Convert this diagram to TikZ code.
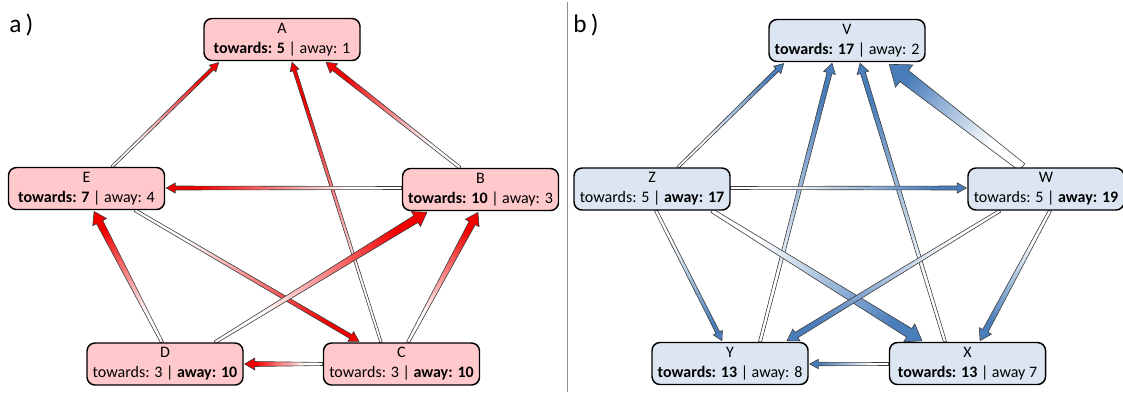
\documentclass[tikz,border=0pt]{standalone}
\usepackage{fontspec}
\setmainfont{Carlito}
\usetikzlibrary{calc,backgrounds}

\definecolor{flowred}{HTML}{F20000}
\definecolor{flowblue}{HTML}{4A7EBB}
\definecolor{pinkfill}{HTML}{FFC8CB}
\definecolor{bluefill}{HTML}{DCE6F2}
\definecolor{edgegray}{HTML}{3C3C3C}
\definecolor{rulegray}{HTML}{909090}

% fill of the flow arrows: white at the tail, full colour near the head
\pgfdeclarehorizontalshading{redflow}{100bp}{color(0bp)=(white); color(25bp)=(white); color(36bp)=(white); color(68bp)=(flowred); color(100bp)=(flowred)}
\pgfdeclarehorizontalshading{blueflow}{100bp}{color(0bp)=(white); color(25bp)=(white); color(36bp)=(white); color(68bp)=(flowblue); color(100bp)=(flowblue)}

% \flowarrow{tail}{tip}{tail width}{shaft width at head}{shading}
% a tapered block arrow, widths in px
\newcommand\flowarrow[5]{%
  \coordinate (flowtail) at #1;
  \coordinate (flowtip) at #2;
  \pgfpointdiff{\pgfpointanchor{flowtail}{center}}{\pgfpointanchor{flowtip}{center}}%
  \pgfgetlastxy{\flowdx}{\flowdy}%
  \pgfmathsetmacro\flowang{atan2(\flowdy,\flowdx)}%
  \pgfmathsetmacro\flowlen{veclen(\flowdx,\flowdy)}%
  \pgfmathsetmacro\flowa{0.375*#3}%
  \pgfmathsetmacro\flowb{0.375*#4}%
  \pgfmathsetmacro\flowh{0.75*(0.9*#4+1.5)}%
  \pgfmathsetmacro\flowbase{\flowlen-0.75*(#4+5)}%
  \begin{scope}[transform canvas={shift={(flowtail)},rotate=\flowang}]
    \shade[flowedge,shading=#5] (0pt,\flowa pt) -- (\flowbase pt,\flowb pt) -- (\flowbase pt,\flowh pt) -- (\flowlen pt,0pt) -- (\flowbase pt,-\flowh pt) -- (\flowbase pt,-\flowb pt) -- (0pt,-\flowa pt) -- cycle;
  \end{scope}%
}

\begin{document}
\begin{tikzpicture}[x=0.75pt,y=-0.75pt,
  state/.style={draw=black, line width=1.1pt, rounded corners=6pt,
    minimum width=117pt, minimum height=31.5pt, inner sep=0pt,
    align=center, font=\fontsize{12}{15}\selectfont, text=black},
  pinkstate/.style={state, fill=pinkfill},
  bluestate/.style={state, fill=bluefill},
  flowedge/.style={draw=edgegray, line width=0.45pt, line join=miter},
  panellabel/.style={anchor=base west, inner sep=0pt, font=\fontsize{19}{22}\selectfont}]
\useasboundingbox (0,0) rectangle (1123,394);

% panel labels and separator
\node[panellabel] (la) at (9,32) {a\,)};
\node[panellabel] (lb) at (573,32) {b\,)};
\coordinate (sepTop) at (567,2);
\coordinate (sepBot) at (567,392);
\draw[rulegray, line width=0.75pt] (sepTop) -- (sepBot);

% states of panel a
\node[pinkstate] (A) at (282,39.5) {A\\\textbf{towards: 5} | away: 1};
\node[pinkstate] (E) at (86.5,188.5) {E\\\textbf{towards: 7} | away: 4};
\node[pinkstate] (B) at (480.5,189.5) {B\\\textbf{towards: 10} | away: 3};
\node[pinkstate] (D) at (165,364) {D\\towards: 3 | \textbf{away: 10}};
\node[pinkstate] (C) at (401.5,364) {C\\towards: 3 | \textbf{away: 10}};

% states of panel b
\node[bluestate] (V) at (847,40.5) {V\\\textbf{towards: 17} | away: 2};
\node[bluestate] (Z) at (652,189) {Z\\towards: 5 | \textbf{away: 17}};
\node[bluestate] (W) at (1046,189) {W\\towards: 5 | \textbf{away: 19}};
\node[bluestate] (Y) at (730,363.5) {Y\\\textbf{towards: 13} | away: 8};
\node[bluestate] (X) at (967.5,363.5) {X\\\textbf{towards: 13} | away 7};

\begin{pgfonlayer}{background}
% flows of panel a
\flowarrow{($(E.north)+(25.5,0)$)}{($(A.south)+(-63,1)$)}{2.5}{3.5}{redflow}
\flowarrow{($(C.north)+(-20.5,0)$)}{($(A.south)+(10,1)$)}{2.5}{3.5}{redflow}
\flowarrow{($(B.north)+(-20.5,0)$)}{($(A.south)+(44,1)$)}{3}{5}{redflow}
\flowarrow{($(B.west)+(0,-1.5)$)}{($(E.east)+(1,-0.5)$)}{3}{4}{redflow}
\flowarrow{($(E.south)+(48.5,0)$)}{($(C.north)+(-42.5,-1)$)}{3}{4.5}{redflow}
\flowarrow{($(D.north)+(-3,0)$)}{($(E.south)+(7.5,1)$)}{3}{7}{redflow}
\flowarrow{($(D.north)+(50,0)$)}{($(B.south)+(-53.5,1)$)}{3}{8}{redflow}
\flowarrow{($(C.north)+(6.5,0)$)}{($(B.south)+(-2.5,1)$)}{3}{7}{redflow}
\flowarrow{(C.west)}{($(D.east)+(1,0)$)}{3}{5}{redflow}

% flows of panel b
\flowarrow{($(Z.north)+(26,0)$)}{($(V.south)+(-63,1)$)}{2.5}{4}{blueflow}
\flowarrow{($(Y.north)+(30,0)$)}{($(V.south)+(-15,1)$)}{3}{5}{blueflow}
\flowarrow{($(X.north)+(-22.5,0)$)}{($(V.south)+(13,1)$)}{3}{5}{blueflow}
\flowarrow{($(W.north)+(-24,0)$)}{($(V.south)+(42,2)$)}{9}{14}{blueflow}
\flowarrow{($(Z.east)+(0,-1)$)}{($(W.west)+(-1,-1)$)}{3}{4}{blueflow}
\flowarrow{($(Z.south)+(4,0)$)}{($(Y.north)+(-8,-1)$)}{3}{4}{blueflow}
\flowarrow{($(Z.south)+(60,0)$)}{($(X.north)+(-45.5,-1)$)}{4}{10}{blueflow}
\flowarrow{($(W.south)+(-46,0)$)}{($(Y.north)+(57,-1)$)}{3}{6}{blueflow}
\flowarrow{($(W.south)+(4,0)$)}{($(X.north)+(12.5,-1)$)}{3}{6}{blueflow}
\flowarrow{($(X.west)+(0,0.5)$)}{($(Y.east)+(1,0.5)$)}{3}{3.5}{blueflow}
\end{pgfonlayer}
\end{tikzpicture}
\end{document}
